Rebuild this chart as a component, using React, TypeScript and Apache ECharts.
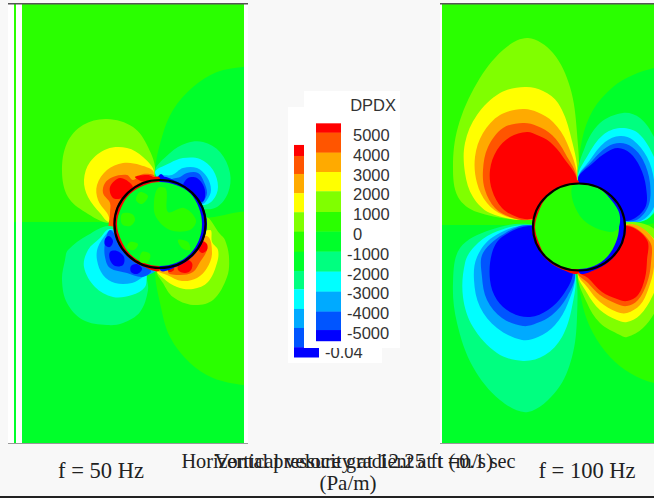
import React, { useEffect, useRef } from "react";
import * as echarts from "echarts";

type P = number[][];
const RED = "#ff0000", R2 = "#ff5500", OR = "#ffaa00", YE = "#ffff00", LG = "#80ff00", G1 = "#2aff00";
const G2 = "#00ff2a", SG = "#00ff80", CY = "#00ffff", B1 = "#00aaff", B2 = "#0055ff", BL = "#0000ff";

// colour bar data (top to bottom)
const bandColors = [RED, R2, OR, YE, LG, G1, G2, SG, CY, B1, B2, BL];
const dpdxEdges = [5590, 5120, 4110, 3130, 2160, 1110, 120, -890, -1900, -2910, -3920, -4850, -5400];
const dpdxTicks = [5000, 4000, 3000, 2000, 1000, 0, -1000, -2000, -3000, -4000, -5000];
const velEdges = [0.0427, 0.0383, 0.0311, 0.0234, 0.0158, 0.008, 0, -0.0077, -0.015, -0.0229, -0.0305, -0.0382, -0.0422];
const velTicks = [-0.04];

// shared: panel half planes
const topHalfL: P = [[-140, -220], [90, -220], [90, 0], [-140, 0]];
const botHalfL: P = [[-140, 0], [90, 0], [90, 225], [-140, 225]];
const topHalfR: P = [[-140, -220], [90, -220], [90, 3], [-140, 3]];
const botHalfR: P = [[-140, 3], [90, 3], [90, 225], [-140, 225]];

// f = 50 Hz contours
const l50UR: P = [[-5, -49], [2, -85], [13, -112], [33, -135], [57, -150], [83, -155], [100, -155], [100, -4], [45, -4], [0, -4]];
const l50LR: P = [[-5, 48], [0, 81], [10, 115], [30, 141], [53, 156], [83, 163], [100, 163], [100, -4], [45, -4], [0, 0]];
const a1: P = [[-5, -49], [-12, -75], [-27, -95], [-53, -103], [-77, -97], [-93, -79], [-98, -50], [-92, -25], [-75, -10], [-50, 1], [-20, -10]];
const a2: P = [[-6, -49], [-17, -65], [-33, -74], [-53, -73], [-70, -60], [-76, -42], [-72, -25], [-60, -9], [-50, 0], [-20, -15]];
const a3: P = [[-6, -49], [-20, -57], [-37, -59], [-53, -52], [-63, -37], [-62, -22], [-53, -9], [-48, -2], [-20, -20]];
const a4: P = [[-5, -45], [-17, -48], [-27, -42], [-33, -47], [-47, -45], [-55, -39], [-57, -29], [-50, -19], [-50, -9], [-50, 8], [-20, -10]];
const a5: P = [[-50, -35], [-40, -44], [-28, -37], [-28, -29], [-37, -24], [-47, -24]];
const a6: P = [[-25, -45], [-12, -47], [-6, -44], [-15, -40]];
const b1: P = [[-5, -49], [10, -69], [27, -79], [43, -80], [60, -70], [70, -49], [68, -29], [57, -15], [43, -13], [20, -20]];
const b2: P = [[-5, -49], [10, -59], [23, -64], [40, -63], [53, -52], [58, -35], [53, -22], [43, -17], [20, -25]];
const b3: P = [[0, -46], [12, -47], [23, -54], [37, -54], [47, -45], [51, -32], [47, -22], [42, -18], [20, -25]];
const b4: P = [[12, -42], [20, -45], [27, -49], [38, -49], [44, -40], [47, -29], [43, -20], [40, -19], [25, -25]];
const b5: P = [[23, -35], [28, -44], [37, -44], [44, -35], [45, -25], [42, -20], [35, -25]];
const b6: P = [[-3, -43], [1, -48], [5, -43], [1, -40]];
const c1: P = [[-3, 48], [-13, 50], [-12, 68], [-20, 90], [-37, 101], [-53, 103], [-77, 98], [-93, 81], [-98, 58], [-95, 38], [-92, 28], [-72, 13], [-50, 4], [-20, 20]];
const c2: P = [[-3, 48], [-12, 51], [-15, 65], [-28, 73], [-47, 75], [-65, 65], [-76, 45], [-72, 28], [-60, 16], [-50, 7], [-20, 20]];
const c3: P = [[-5, 48], [-17, 55], [-28, 61], [-45, 61], [-57, 53], [-63, 38], [-62, 25], [-53, 11], [-48, 8], [-20, 20]];
const c4: P = [[-50, 8], [-55, 21], [-55, 35], [-50, 46], [-33, 51], [-18, 55], [-9, 49], [-20, 40], [-40, 20]];
const c5: P = [[-50, 30], [-43, 29], [-36, 35], [-37, 43], [-45, 44], [-50, 38]];
const c6: P = [[-29, 44], [-23, 42], [-18, 47], [-23, 52], [-29, 50]];
const c7: P = [[-55, 17], [-51, 14], [-47, 19], [-50, 25], [-55, 23]];
const d1: P = [[45, -5], [60, 12], [65, 18], [69, 35], [67, 55], [53, 78], [33, 83], [13, 75], [3, 61], [-3, 48], [20, 20]];
const d2: P = [[50, 8], [52, 20], [58, 28], [57, 41], [48, 60], [33, 67], [17, 65], [3, 56], [-3, 48], [20, 20]];
const d3: P = [[47, 14], [52, 31], [47, 46], [37, 56], [22, 59], [7, 53], [-2, 48], [20, 20]];
const d4: P = [[40, 20], [45, 20], [47, 28], [40, 40], [33, 50], [20, 53], [8, 50], [20, 30]];
const d5: P = [[25, 37], [32, 41], [31, 48], [25, 51], [18, 48], [19, 41]];
const d6: P = [[42, 19], [47, 22], [47, 28], [42, 31], [38, 27], [38, 22]];
const d7: P = [[8, 45], [13, 44], [14, 48], [9, 50]];
const rimRedL: P = [[0, -43.5], [-18, -40], [-33, -30], [-43, -15], [-47, 2], [-43, 19], [-33, 34], [-18, 44], [0, 47.5]];
const rimBlueL: P = [[0, -43.5], [18, -40], [33, -30], [43, -15], [47, 2], [43, 19], [33, 34], [18, 44], [0, 47.5]];
const coreL: P = [[0, -40], [16, -37], [30, -29], [39, -14], [42, 2], [39, 18], [30, 32], [16, 41], [0, 44], [-16, 41], [-30, 32], [-39, 18], [-43, 2], [-39, -14], [-30, -28], [-15, -37]];
const patchL1: P = [[-2, -34], [6, -33], [8, -10], [24, -14], [36, -2], [30, 8], [10, 8], [-4, -5], [-6, -20]];
const patchL2: P = [[-38, -8], [-28, -8], [-25, -2], [-30, 4], [-38, 2]];
const patchL3: P = [[-20, -30], [-12, -26], [-18, -18], [-24, -22]];
const patchL4: P = [[-30, 20], [-22, 22], [-26, 28], [-33, 26]];
const patchL5: P = [[-18, 30], [-10, 32], [-12, 40], [-20, 40]];
const patchL6: P = [[18, 18], [28, 20], [30, 28], [22, 26]];

// f = 100 Hz contours
const l100UR: P = [[-1, -42], [3, -82], [14, -112], [34, -135], [54, -147], [75, -154], [110, -160], [110, 5], [50, 3], [0, 3]];
const l100LR: P = [[-1, 50], [4, 85], [14, 111], [31, 135], [51, 151], [75, 161], [110, 165], [110, 5], [50, 5], [0, 5]];
const e1: P = [[-2, -40], [-2, -89], [-9, -135], [-26, -169], [-51, -184], [-76, -172], [-102, -139], [-121, -95], [-126, -55], [-121, -25], [-102, -10], [-52, -2], [-20, -10]];
const e2: P = [[-2, -40], [-9, -89], [-21, -119], [-36, -131], [-54, -135], [-79, -129], [-102, -107], [-114, -79], [-114, -49], [-106, -25], [-89, -9], [-52, -2], [-20, -10]];
const e3: P = [[-2, -40], [-12, -79], [-26, -100], [-42, -110], [-56, -113], [-79, -107], [-96, -89], [-104, -65], [-102, -39], [-92, -19], [-76, -7], [-52, -2], [-20, -10]];
const e4: P = [[-2, -40], [-14, -69], [-27, -87], [-42, -96], [-56, -99], [-76, -94], [-91, -75], [-96, -52], [-94, -32], [-84, -14], [-69, -5], [-51, -2], [-20, -10]];
const e5: P = [[-2, -40], [-16, -65], [-29, -80], [-42, -87], [-52, -90], [-69, -85], [-82, -72], [-89, -52], [-87, -32], [-77, -14], [-62, -5], [-49, -3], [-20, -10]];
const f1: P = [[-1, -42], [6, -75], [21, -99], [44, -109], [61, -104], [75, -85], [86, -55], [84, -20], [66, -2], [48, 0], [20, -10]];
const f2: P = [[-1, -42], [9, -67], [24, -87], [41, -94], [59, -89], [75, -65], [84, -35], [71, -5], [51, 0], [20, -10]];
const f3: P = [[-1, -42], [11, -62], [26, -80], [41, -86], [54, -82], [68, -65], [75, -42], [75, -15], [58, 0], [20, -10]];
const f4: P = [[-1, -42], [14, -62], [28, -75], [41, -79], [53, -75], [64, -62], [71, -39], [69, -15], [54, -1], [20, -10]];
const f5: P = [[-1, -42], [14, -59], [28, -70], [39, -74], [51, -69], [61, -55], [67, -35], [66, -14], [48, -1], [20, -10]];
const g1: P = [[-4, 49], [-2, 95], [-7, 135], [-22, 168], [-51, 190], [-79, 178], [-106, 145], [-122, 101], [-126, 61], [-119, 26], [-89, 8], [-51, 2], [-20, 15]];
const g2: P = [[-4, 50], [-7, 85], [-17, 115], [-34, 133], [-56, 139], [-82, 131], [-106, 105], [-116, 75], [-114, 41], [-105, 25], [-86, 11], [-51, 3], [-20, 15]];
const g3: P = [[-4, 51], [-11, 81], [-24, 103], [-41, 115], [-57, 118], [-82, 106], [-99, 85], [-105, 58], [-102, 35], [-86, 15], [-51, 3], [-20, 15]];
const g4: P = [[-4, 51], [-12, 75], [-27, 93], [-42, 101], [-56, 104], [-77, 96], [-92, 78], [-97, 55], [-96, 31], [-72, 10], [-49, 3], [-20, 15]];
const g5: P = [[-6, 51], [-16, 73], [-31, 88], [-49, 95], [-67, 91], [-82, 78], [-89, 58], [-87, 31], [-77, 15], [-50, 4], [-10, 10]];
const h1: P = [[-1, 50], [8, 81], [21, 101], [41, 113], [48, 115], [64, 106], [78, 85], [84, 51], [78, 10], [50, 0], [20, 15]];
const h2: P = [[-1, 50], [8, 71], [21, 88], [38, 98], [48, 100], [61, 93], [73, 75], [81, 51], [78, 21], [50, 2], [20, 15]];
const h3: P = [[-1, 50], [9, 66], [21, 80], [38, 90], [48, 91], [61, 83], [69, 68], [75, 45], [75, 18], [52, 2], [20, 15]];
const h4: P = [[-1, 50], [9, 61], [21, 73], [38, 82], [48, 84], [59, 78], [68, 61], [72, 41], [71, 20], [48, 3], [20, 15]];
const h5: P = [[1, 50], [9, 56], [23, 70], [38, 77], [48, 79], [59, 73], [66, 56], [68, 38], [68, 18], [48, 4], [15, 15]];
const rimRedR: P = [[0, -40], [-18, -37], [-33, -27], [-43, -12], [-47, 5], [-43, 22], [-33, 37], [-18, 47], [0, 50]];
const rimBlueR: P = [[0, -40], [18, -37], [33, -27], [43, -12], [47, 5], [43, 22], [33, 37], [18, 47], [0, 50]];
const coreR: P = [[0, -39], [15, -36], [28, -27], [37, -11], [40, 5], [37, 20], [28, 35], [15, 44], [0, 47], [-17, 45], [-32, 36], [-40, 21], [-44, 5], [-40, -11], [-32, -25], [-16, -36]];
const patchR1: P = [[-7, -35], [-4, -15], [8, 1], [31, 10], [40, 5], [39, -12], [21, -32], [4, -37]];

type Layer = { pts: P; fill: string; smooth: number };
const lay = (pts: P, fill: string, smooth = 0.35): Layer => ({ pts, fill, smooth });

const panel50: Layer[] = [
  lay(topHalfL, G1, 0), lay(botHalfL, G2, 0), lay(l50UR, G2), lay(l50LR, G1),
  lay(a1, LG), lay(a2, YE), lay(a3, OR), lay(a4, R2), lay(a5, RED), lay(a6, RED),
  lay(b1, SG), lay(b2, CY), lay(b3, B1), lay(b4, B2), lay(b5, BL), lay(b6, BL),
  lay(c1, SG), lay(c2, CY), lay(c3, B1), lay(c4, B2), lay(c5, BL), lay(c6, BL), lay(c7, BL),
  lay(d1, LG), lay(d2, YE), lay(d3, OR), lay(d4, R2), lay(d5, RED), lay(d6, RED), lay(d7, RED),
  lay(rimRedL, RED), lay(rimBlueL, BL), lay(coreL, G2),
  lay(patchL1, G1), lay(patchL2, G1), lay(patchL3, G1), lay(patchL4, G1), lay(patchL5, G1), lay(patchL6, G1),
];
const panel100: Layer[] = [
  lay(topHalfR, G1, 0), lay(botHalfR, G2, 0), lay(l100UR, G2), lay(l100LR, G1),
  lay(e1, LG), lay(e2, YE), lay(e3, OR), lay(e4, R2), lay(e5, RED),
  lay(f1, SG), lay(f2, CY), lay(f3, B1), lay(f4, B2), lay(f5, BL),
  lay(g1, SG), lay(g2, CY), lay(g3, B1), lay(g4, B2), lay(g5, BL),
  lay(h1, LG), lay(h2, YE), lay(h3, OR), lay(h4, R2), lay(h5, RED),
  lay(rimRedR, RED), lay(rimBlueR, BL), lay(coreR, G1), lay(patchR1, G2),
];

const ring50 = { cy: 2, rx: 45.5, ry: 44 };
const ring100 = { cy: 5, rx: 46, ry: 43.5 };

const contourSeries = (layers: Layer[], ring: typeof ring50, axis: number) => ({
  type: "custom",
  xAxisIndex: axis,
  yAxisIndex: axis,
  clip: true,
  silent: true,
  z: 2,
  data: layers.map((_, i) => [i]).concat([[layers.length]]),
  renderItem: (_: any, api: any) => {
    const i = api.value(0);
    if (i === layers.length) {
      const c = api.coord([0, ring.cy]);
      return {
        type: "ellipse",
        shape: { cx: c[0], cy: c[1], rx: ring.rx, ry: ring.ry },
        style: { fill: "none", stroke: "#000", lineWidth: 2.2 },
      };
    }
    const l = layers[i];
    return {
      type: "polygon",
      shape: { points: l.pts.map((p) => api.coord(p)), smooth: l.smooth },
      style: { fill: l.fill },
    };
  },
});

const barSeries = (edges: number[], axis: number, z: number) => ({
  type: "custom",
  xAxisIndex: axis,
  yAxisIndex: axis,
  silent: true,
  z,
  data: bandColors.map((_, i) => [i]),
  renderItem: (params: any, api: any) => {
    const i = api.value(0);
    const a = api.coord([0, edges[i]]);
    const b = api.coord([1, edges[i + 1]]);
    return { type: "rect", shape: { x: a[0], y: a[1], width: b[0] - a[0], height: b[1] - a[1] + 0.3 }, style: { fill: bandColors[i] } };
  },
});

const box = (x: number, y: number, w: number, h: number, fill: string, z = 0) => ({
  type: "rect", z, silent: true, shape: { x, y, width: w, height: h }, style: { fill },
});
const serif = "Liberation Serif";
const cap = (text: string, x: number, y: number, size: number) => ({
  type: "text", z: 20, silent: true, x, y,
  style: { text, fill: "#222", font: `${size}px "${serif}"`, align: "center", verticalAlign: "middle" },
});
const labelFont = { color: "#333", fontFamily: "Liberation Sans", fontSize: 16.5 };

export default function App() {
  const ref = useRef<HTMLDivElement>(null);
  useEffect(() => {
    document.body.style.margin = "0";
    const chart = echarts.init(ref.current!, undefined, { renderer: "svg" });
    const hidden = { show: false };
    const xHidden = (min: number, max: number, gridIndex: number) => ({ type: "value", min, max, gridIndex, ...hidden });
    chart.setOption({
      animation: false,
      backgroundColor: "#f8f8f8",
      grid: [
        { left: 22, top: 4, width: 222, height: 439 },
        { left: 442, top: 4, width: 212, height: 439 },
        { left: 294, top: 139.2, width: 25, height: 225 },
        { left: 316, top: 115.2, width: 25, height: 237.6 },
      ],
      xAxis: [xHidden(-138, 84, 0), xHidden(-137, 75, 1), xHidden(0, 1, 2), xHidden(0, 1, 3)],
      yAxis: [
        { type: "value", min: -218, max: 221, inverse: true, gridIndex: 0, ...hidden },
        { type: "value", min: -218, max: 221, inverse: true, gridIndex: 1, ...hidden },
        {
          type: "value", gridIndex: 2, min: -0.045, max: 0.045, position: "right", z: 1,
          axisLine: { show: false }, axisTick: { show: false }, splitLine: { show: false },
          axisLabel: { customValues: velTicks, margin: 6, formatter: (v: number) => String(v), ...labelFont },
        },
        {
          type: "value", gridIndex: 3, min: -6000, max: 6000, position: "right", z: 7,
          axisLine: { show: false }, axisTick: { show: false }, splitLine: { show: false },
          axisLabel: {
            customValues: dpdxTicks, margin: 6, align: "left", ...labelFont,
            formatter: (v: number) => (v >= 0 ? `{p|${v}}` : String(v)),
            rich: { p: { padding: [0, 0, 0, 6], ...labelFont } },
          },
        },
      ],
      series: [
        contourSeries(panel50, ring50, 0),
        contourSeries(panel100, ring100, 1),
        barSeries(velEdges, 2, 1),
        barSeries(dpdxEdges, 3, 6),
      ],
      graphic: {
        elements: [
          box(8, 4, 6, 439, "#ffffff"),
          box(14, 4, 2, 218, G1),
          box(14, 222, 2, 221, G2),
          box(16, 4, 6, 439, "#ffffff"),
          box(244, 4, 4, 439, "#ffffff"),
          box(440, 4, 2, 439, "#ffffff"),
          box(8, 3, 240, 1.5, "#555", 3),
          box(440, 3, 214, 1.5, "#555", 3),
          box(8, 443, 240, 1, "#999", 3),
          box(440, 443, 214, 1, "#999", 3),
          box(0, 496, 654, 2, "#222", 3),
          box(288, 107, 94, 256, "#ffffff", 0),
          box(304, 91, 96, 257, "#ffffff", 5),
          {
            type: "text", z: 8, silent: true, x: 396, y: 105,
            style: { text: "DPDX", fill: "#333", font: '16.5px "Liberation Sans"', align: "right", verticalAlign: "middle" },
          },
          cap("f = 50 Hz", 101, 470, 22.5),
          cap("f = 100 Hz", 587, 470, 22.5),
          cap("Horizontal pressure gradient at t =0.1 sec", 348.5, 461, 20.3),
          cap("Vertical velocity at 12.25 ft (m/s)", 353.5, 461, 21),
          cap("(Pa/m)", 348, 483, 21),
        ],
      },
    });
    return () => chart.dispose();
  }, []);
  return <div ref={ref} style={{ position: "absolute", left: 0, top: 0, width: 654, height: 498 }} />;
}
